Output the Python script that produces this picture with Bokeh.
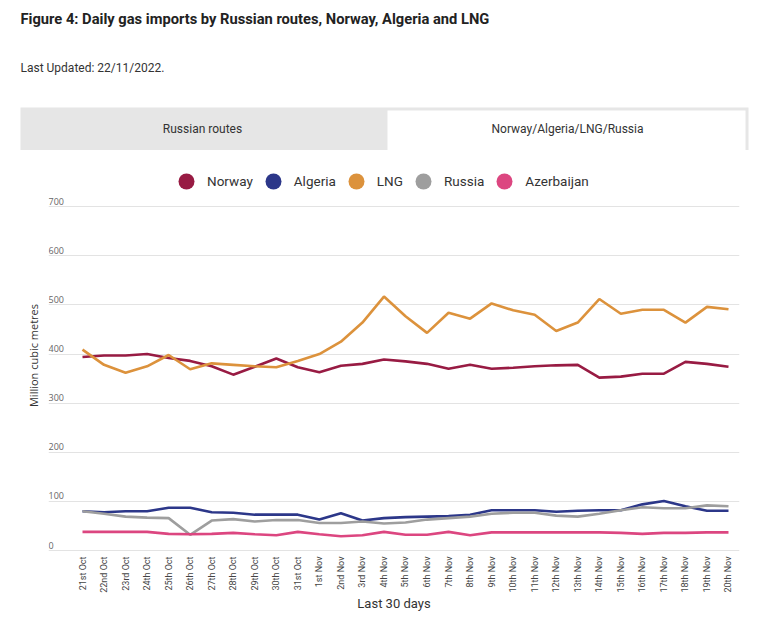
import numpy as np
from bokeh.plotting import figure
from bokeh.models import Range1d, FixedTicker, Legend, LegendItem
from bokeh.embed import file_html
from bokeh.resources import INLINE
from bokeh.core.properties import value

# ---------------- data ----------------
dates = ["21st Oct", "22nd Oct", "23rd Oct", "24th Oct", "25th Oct", "26th Oct", "27th Oct",
         "28th Oct", "29th Oct", "30th Oct", "31st Oct", "1st Nov", "2nd Nov", "3rd Nov",
         "4th Nov", "5th Nov", "6th Nov", "7th Nov", "8th Nov", "9th Nov", "10th Nov",
         "11th Nov", "12th Nov", "13th Nov", "14th Nov", "15th Nov", "16th Nov", "17th Nov",
         "18th Nov", "19th Nov", "20th Nov"]

norway = [394, 397, 397, 400, 392, 386, 375, 358, 374, 391, 373, 363, 376, 380, 389, 385,
          380, 370, 378, 370, 372, 375, 377, 378, 352, 354, 360, 360, 384, 380, 374]
algeria = [80, 78, 80, 80, 87, 87, 78, 77, 73, 73, 73, 63, 76, 61, 66, 68,
           69, 70, 73, 82, 82, 82, 79, 81, 82, 82, 94, 101, 90, 81, 81]
lng = [409, 378, 362, 375, 398, 369, 381, 378, 375, 373, 386, 400, 425, 464, 517, 477,
       443, 484, 472, 503, 489, 480, 447, 464, 512, 482, 490, 490, 464, 496, 491]
russia = [80, 75, 69, 67, 66, 32, 61, 64, 59, 62, 62, 56, 56, 59, 55, 57,
          63, 66, 69, 75, 77, 77, 71, 69, 75, 82, 88, 86, 86, 92, 90]
azerbaijan = [38, 38, 38, 38, 34, 33, 34, 36, 33, 31, 38, 33, 29, 31, 38, 32,
              32, 38, 31, 37, 37, 37, 37, 37, 37, 36, 34, 36, 36, 37, 37]

series_names = ["Norway", "Algeria", "LNG", "Russia", "Azerbaijan"]
series_values = [norway, algeria, lng, russia, azerbaijan]
series_colors = ["#981b43", "#2c3789", "#dc923c", "#9e9e9e", "#dc4680"]

y_ticks = [0, 100, 200, 300, 400, 500, 600, 700]

title_text = "Figure 4: Daily gas imports by Russian routes, Norway, Algeria and LNG"
updated_text = "Last Updated: 22/11/2022."
tab_labels = ["Russian routes", "Norway/Algeria/LNG/Russia"]

FONT = "Roboto"
FONT2 = "Open Sans"
W = 750

# ---------------- header (title, update note, tabs) ----------------
header = figure(width=W, height=150, x_range=Range1d(0, W), y_range=Range1d(150, 0),
                output_backend="svg", toolbar_location=None, min_border=0,
                x_axis_location=None, y_axis_location=None)
header.grid.visible = False
header.outline_line_color = None

header.text(x=[20], y=[18], text=[title_text], text_font=value(FONT), text_font_style="bold",
            text_font_size="14.7px", text_baseline="middle", text_align="left", text_color="#222222")
header.text(x=[20], y=[67], text=[updated_text], text_font=value(FONT),
            text_font_size="12px", text_baseline="middle", text_align="left", text_color="#333333")

header.quad(left=[20], right=[748], top=[107], bottom=[150], fill_color="#e6e6e6", line_color=None)
header.quad(left=[387], right=[745], top=[110], bottom=[150], fill_color="#ffffff", line_color=None)
header.text(x=[202, 567], y=[128, 128], text=tab_labels, text_font=value(FONT),
            text_font_size="12px", text_baseline="middle", text_align="center", text_color="#333333")

# ---------------- chart ----------------
x = np.arange(len(dates))
p = figure(width=W, height=467, x_range=Range1d(-1.579, 30.511), y_range=Range1d(-4, 798),
           output_backend="svg", toolbar_location=None,
           min_border_left=48, min_border_right=11, min_border_top=8, min_border_bottom=65)
p.outline_line_color = None
p.xgrid.visible = False
p.ygrid.ticker = FixedTicker(ticks=y_ticks)
p.ygrid.grid_line_color = "#e3e3e3"
p.ygrid.grid_line_width = 1

items = []
for name, vals, col in zip(series_names, series_values, series_colors):
    p.line(x, vals, line_color=col, line_width=2.6)
    sc = p.scatter(x, vals, size=0, fill_color=col, line_color=None)
    items.append(LegendItem(label=name, renderers=[sc]))

# y tick labels sit above the gridlines, inside the plot
p.text(x=[-1.579] * len(y_ticks), y=y_ticks, text=[str(t) for t in y_ticks],
       text_align="left", text_baseline="bottom", y_offset=-2,
       text_font=value(FONT2), text_font_size="9px", text_color="#666666")

legend = Legend(items=items, orientation="horizontal", location=(118, 351),
                glyph_width=40, glyph_height=40, label_standoff=1, spacing=0,
                padding=0, margin=0, border_line_color=None, background_fill_alpha=0,
                label_text_font=FONT, label_text_font_size="13.5px", label_text_color="#333333")
p.add_layout(legend)

p.yaxis.ticker = FixedTicker(ticks=[])
p.yaxis.axis_line_color = None
p.yaxis.major_tick_line_color = None
p.yaxis.minor_tick_line_color = None
p.yaxis.major_tick_out = 0
p.yaxis.major_label_standoff = 0
p.yaxis.axis_label = "Million cubic metres"
p.yaxis.axis_label_standoff = 8
p.yaxis.axis_label_text_font = FONT2
p.yaxis.axis_label_text_font_size = "11px"
p.yaxis.axis_label_text_font_style = "normal"
p.yaxis.axis_label_text_color = "#333333"

p.xaxis.ticker = FixedTicker(ticks=list(range(len(dates))))
p.xaxis.major_label_overrides = {i: d for i, d in enumerate(dates)}
p.xaxis.major_label_orientation = np.pi / 2
p.xaxis.axis_line_color = None
p.xaxis.major_tick_line_color = None
p.xaxis.minor_tick_line_color = None
p.xaxis.major_tick_out = 0
p.xaxis.major_label_standoff = 4
p.xaxis.major_label_text_font = FONT
p.xaxis.major_label_text_font_size = "9px"
p.xaxis.major_label_text_color = "#444444"
p.xaxis.axis_label = "Last 30 days"
p.xaxis.axis_label_standoff = 0
p.xaxis.axis_label_text_font = FONT
p.xaxis.axis_label_text_font_size = "13px"
p.xaxis.axis_label_text_font_style = "normal"
p.xaxis.axis_label_text_color = "#333333"

open("out.html", "w").write(file_html([header, p], INLINE))
